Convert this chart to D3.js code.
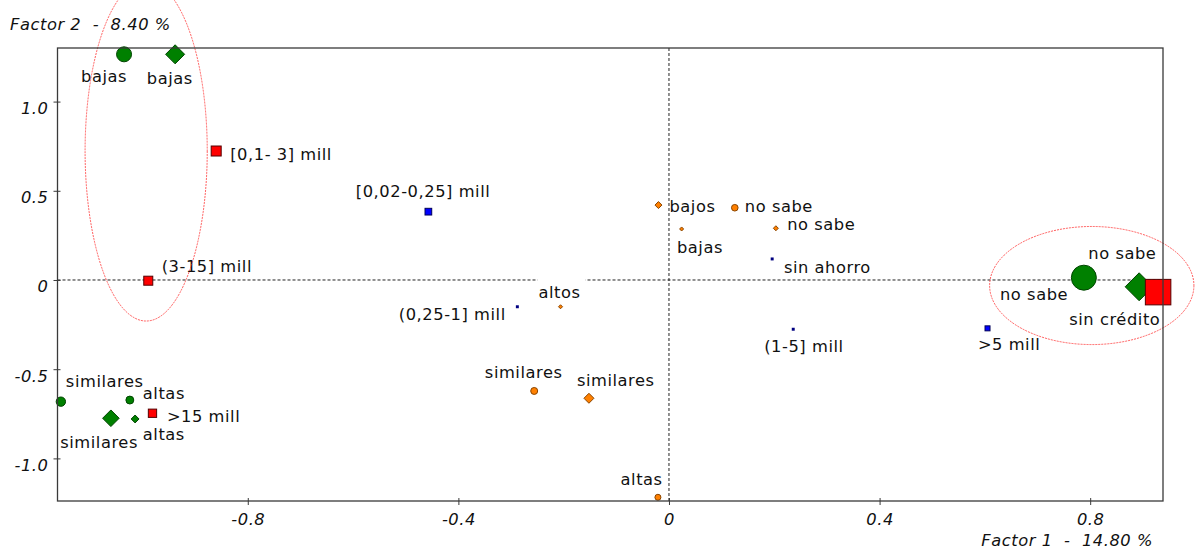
<!DOCTYPE html>
<html>
<head>
<meta charset="utf-8">
<script src="https://cdn.jsdelivr.net/npm/d3@7/dist/d3.min.js"></script>
<style>
  html, body { margin: 0; padding: 0; background: #fff; }
  svg { display: block; }
  text { font-family: "DejaVu Sans", Verdana, sans-serif; }
</style>
</head>
<body>
<svg id="chart" width="1198" height="550"></svg>
<script>
// ---------------- DATA ----------------
const categories = [
  "bajas", "bajas", "[0,1- 3] mill", "[0,02-0,25] mill", "(3-15] mill",
  "(0,25-1] mill", "altos", "bajos", "no sabe", "bajas",
  "no sabe", "sin ahorro", "(1-5] mill", "no sabe", "no sabe",
  "sin crédito", ">5 mill", "similares", "altas", "similares",
  "altas", ">15 mill", "similares", "similares", "altas"
];
const factor1 = [
  -1.035, -0.938, -0.860, -0.457, -0.989,
  -0.288, -0.206, -0.020, 0.125, 0.024,
  0.203, 0.196, 0.236, 0.788, 0.893,
  0.929, 0.605, -1.155, -1.024, -1.060,
  -1.014, -0.981, -0.256, -0.152, -0.021
];
const factor2 = [
  1.265, 1.265, 0.723, 0.383, -0.004,
  -0.150, -0.150, 0.420, 0.405, 0.286,
  0.290, 0.118, -0.276, 0.013, -0.038,
  -0.068, -0.271, -0.682, -0.673, -0.775,
  -0.779, -0.747, -0.622, -0.663, -1.218
];
// variable group of each modality
const groups = [
  "verde", "verde", "rojo", "azul", "rojo",
  "marino", "naranja", "naranja", "naranja", "naranja",
  "naranja", "marino", "marino", "verde", "verde",
  "rojo", "azul", "verde", "verde", "verde",
  "verde", "rojo", "naranja", "naranja", "naranja"
];
const shapes = [
  "circle", "diamond", "square", "square", "square",
  "square", "diamond", "diamond", "circle", "diamond",
  "diamond", "square", "square", "circle", "diamond",
  "square", "square", "circle", "circle", "diamond",
  "diamond", "square", "circle", "diamond", "circle"
];
// relative weight (mass) of each modality
const masses = [
  36, 58, 16, 7.2, 13,
  1.4, 2.6, 7.8, 7, 2.6,
  4, 1.4, 1.4, 100, 125,
  104, 4, 14, 10, 44,
  10, 11, 7.8, 16, 5.8
];
const xTicks = [-0.8, -0.4, 0, 0.4, 0.8];
const yTicks = [-1.0, -0.5, 0, 0.5, 1.0];
const xTitle = "Factor 1  -  14.80 %";
const yTitle = "Factor 2  -  8.40 %";
// highlighted groups (ellipses): centre x, centre y, radius x, radius y in factor units
const ellipseCx = [-0.993, 0.803];
const ellipseCy = [0.723, -0.031];
const ellipseRx = [0.116, 0.194];
const ellipseRy = [0.953, 0.331];

// ---------------- LAYOUT / STYLE ----------------
const labelLayout = [
  [-20, 27.4, "middle"], [-5.3, 30, "middle"], [14, 8.5, "start"], [-5.3, -14.4, "middle"], [13.4, -9, "start"],
  [-11.6, 13.3, "end"], [-1, -9, "middle"], [11, 6.7, "start"], [10, 4, "start"], [18.3, 23.7, "middle"],
  [11.3, 1.5, "start"], [11.7, 14.3, "start"], [10.7, 22.4, "middle"], [-49.8, 22.3, "middle"], [-16.8, -27.4, "middle"],
  [-43.3, 32.8, "middle"], [21.6, 21.7, "middle"], [5, -15, "start"], [13, -1, "start"], [-11.8, 29.4, "middle"],
  [7.7, 21, "start"], [14.4, 8.4, "start"], [-10.5, -12.7, "middle"], [26.8, -12.3, "middle"], [-16.3, -12.3, "middle"]
];
const gapLabels = ["altos"];
const palette = {
  verde:   { fill: "#008000", stroke: "#004400" },
  rojo:    { fill: "#ff0000", stroke: "#550000" },
  azul:    { fill: "#0000ff", stroke: "#00005a" },
  marino:  { fill: "#000080", stroke: "none" },
  naranja: { fill: "#ff8000", stroke: "#8a4500" }
};

const W = 1198, H = 550;
const plot = { left: 57.5, right: 1163, top: 48, bottom: 501 };

const x = d3.scaleLinear().domain([-1.1614, 0.9383]).range([plot.left, plot.right]);
const y = d3.scaleLinear().domain([-1.2388, 1.3004]).range([plot.bottom, plot.top]);
const size = d3.scaleSqrt().domain([0, 100]).range([0, 12.5]);

const fmt = d => d === 0 ? "0" : (d < 0 ? "-" : "") + Math.abs(d).toFixed(1);

const svg = d3.select("#chart");
const textColor = "#111";
const fontSize = "16.3px";
const ls = "0.55px";

// zero dotted lines
const zero = svg.append("g").attr("stroke", "#222").attr("stroke-width", 1).attr("stroke-dasharray", "3,2");
zero.append("line").attr("x1", plot.left).attr("x2", plot.right).attr("y1", y(0)).attr("y2", y(0));
zero.append("line").attr("x1", x(0)).attr("x2", x(0)).attr("y1", plot.top).attr("y2", plot.bottom);

const points = categories.map((c, i) => ({
  label: c, fx: factor1[i], fy: factor2[i], group: groups[i], shape: shapes[i], mass: masses[i], lay: labelLayout[i]
}));

const bgLayer = svg.append("g");

// markers
const mk = svg.append("g");
points.forEach(p => {
  const cx = x(p.fx), cy = y(p.fy), h = size(p.mass);
  const col = palette[p.group];
  const sw = h < 2 ? 0 : 1;
  let el;
  if (p.shape === "circle") {
    el = mk.append("circle").attr("cx", cx).attr("cy", cy).attr("r", h);
  } else if (p.shape === "square") {
    el = mk.append("rect").attr("x", cx - h).attr("y", cy - h).attr("width", 2 * h).attr("height", 2 * h);
  } else {
    el = mk.append("path").attr("d", `M${cx},${cy - h}L${cx + h},${cy}L${cx},${cy + h}L${cx - h},${cy}Z`);
  }
  el.attr("fill", col.fill).attr("stroke", sw ? col.stroke : "none").attr("stroke-width", sw);
});

// labels
const lbl = svg.append("g").attr("font-size", fontSize).attr("fill", textColor).style("letter-spacing", ls);
points.forEach(p => {
  const t = lbl.append("text")
    .attr("x", x(p.fx) + p.lay[0])
    .attr("y", y(p.fy) + p.lay[1])
    .attr("text-anchor", p.lay[2])
    .text(p.label);
  if (gapLabels.includes(p.label)) {
    const b = t.node().getBBox();
    bgLayer.append("rect")
      .attr("x", b.x - 1).attr("y", y(0) - 2)
      .attr("width", b.width + 6).attr("height", b.y + b.height - y(0) + 2)
      .attr("fill", "#fff");
  }
});

// ellipses
const el = svg.append("g").attr("fill", "none").attr("stroke", "#ff2a2a").attr("stroke-width", 1)
  .attr("stroke-dasharray", "2,1").attr("opacity", 0.75);
ellipseCx.forEach((c, i) => {
  el.append("ellipse")
    .attr("cx", x(c)).attr("cy", y(ellipseCy[i]))
    .attr("rx", x(c + ellipseRx[i]) - x(c))
    .attr("ry", y(ellipseCy[i]) - y(ellipseCy[i] + ellipseRy[i]));
});

// frame
svg.append("rect")
  .attr("x", plot.left).attr("y", plot.top)
  .attr("width", plot.right - plot.left).attr("height", plot.bottom - plot.top)
  .attr("fill", "none").attr("stroke", "#3a3a3a").attr("stroke-width", 1.3);

// axes
const xAxis = svg.append("g").attr("transform", `translate(0,${plot.bottom})`)
  .call(d3.axisBottom(x).tickValues(xTicks).tickFormat(fmt).tickSize(4).tickPadding(10));
xAxis.select(".domain").remove();
xAxis.selectAll(".tick line").attr("y1", -3).attr("y2", 4).attr("stroke", "#3a3a3a");
xAxis.selectAll(".tick text").attr("font-family", "DejaVu Sans, sans-serif").attr("font-size", fontSize)
  .attr("font-style", "italic").attr("fill", textColor).attr("dy", "0").attr("y", 23.5).style("letter-spacing", ls);

const yAxis = svg.append("g").attr("transform", `translate(${plot.left},0)`)
  .call(d3.axisLeft(y).tickValues(yTicks).tickFormat(fmt).tickSize(4));
yAxis.select(".domain").remove();
yAxis.selectAll(".tick line").attr("x1", -4).attr("x2", 3).attr("stroke", "#3a3a3a");
yAxis.selectAll(".tick text").attr("font-family", "DejaVu Sans, sans-serif").attr("font-size", fontSize)
  .attr("font-style", "italic").attr("fill", textColor).attr("dy", "0").attr("x", -9).attr("y", 12)
  .style("letter-spacing", ls);

// axis titles
svg.append("text").attr("x", 10).attr("y", 30).attr("font-size", fontSize).attr("font-style", "italic")
  .attr("fill", textColor).style("white-space", "pre").style("letter-spacing", ls).text(yTitle);
svg.append("text").attr("x", 1153).attr("y", 546).attr("text-anchor", "end").attr("font-size", fontSize)
  .attr("font-style", "italic").attr("fill", textColor).style("white-space", "pre").style("letter-spacing", ls).text(xTitle);
</script>
</body>
</html>
